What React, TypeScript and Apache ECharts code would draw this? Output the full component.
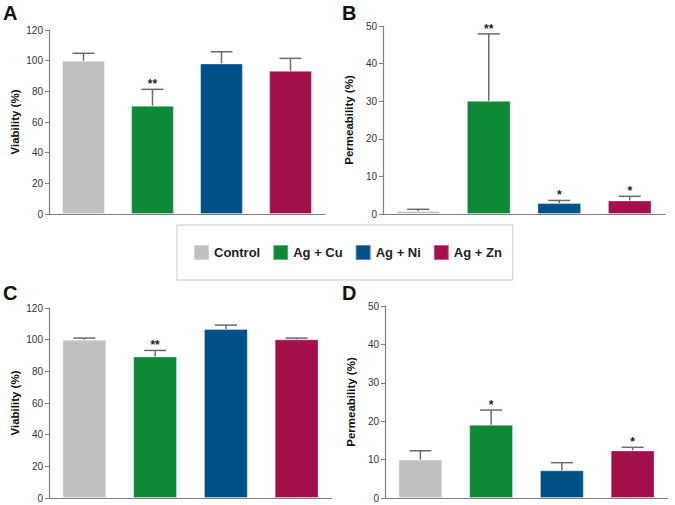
import React, { useEffect, useRef } from "react";
import * as echarts from "echarts";

const categories = ["Control", "Ag + Cu", "Ag + Ni", "Ag + Zn"];
const barColors = ["#c0c0c0", "#0e8a37", "#005187", "#a3104b"];

const viabilityA = [100, 70.6, 98.2, 93.4];
const viabilityAErr = [4.8, 10.7, 7.6, 8.1];
const starsA = ["", "**", "", ""];

const permeabilityB = [0.8, 30.1, 2.9, 3.6];
const permeabilityBErr = [0.45, 17.8, 0.7, 1.1];
const starsB = ["", "**", "*", "*"];

const viabilityC = [100, 89.4, 106.7, 100.2];
const viabilityCErr = [1.0, 3.8, 2.5, 0.8];
const starsC = ["", "**", "", ""];

const permeabilityD = [10.0, 19.1, 7.2, 12.4];
const permeabilityDErr = [2.3, 3.8, 2.0, 0.8];
const starsD = ["", "*", "", "*"];

const viabilityTicks = { min: 0, max: 120, interval: 20 };
const permeabilityTicks = { min: 0, max: 50, interval: 10 };

const FONT = "Liberation Sans, Arial, sans-serif";
const AXIS_COLOR = "#808080";

export default function App() {
  const ref = useRef<HTMLDivElement>(null);

  useEffect(() => {
    document.body.style.margin = "0";
    if (!ref.current) return;
    const chart = echarts.init(ref.current, null, { renderer: "svg" });

    const panels = [
      { vals: viabilityA, errs: viabilityAErr, stars: starsA, ticks: viabilityTicks, name: "Viability (%)" },
      { vals: permeabilityB, errs: permeabilityBErr, stars: starsB, ticks: permeabilityTicks, name: "Permeability (%)" },
      { vals: viabilityC, errs: viabilityCErr, stars: starsC, ticks: viabilityTicks, name: "Viability (%)" },
      { vals: permeabilityD, errs: permeabilityDErr, stars: starsD, ticks: permeabilityTicks, name: "Permeability (%)" },
    ];

    const grids = [
      { left: 49, right: 350, top: 30, bottom: 291 },
      { left: 383, right: 10, top: 26, bottom: 291 },
      { left: 49, right: 343, top: 308, bottom: 7 },
      { left: 385, right: 7, top: 306, bottom: 7 },
    ];

    const xAxis = grids.map((_, p) => ({
      type: "category",
      gridIndex: p,
      data: categories,
      axisLine: { lineStyle: { color: AXIS_COLOR, width: 1.2 } },
      axisTick: { show: false },
      axisLabel: { show: false },
    }));

    const yAxis = panels.map((pn, p) => ({
      type: "value",
      gridIndex: p,
      min: pn.ticks.min,
      max: pn.ticks.max,
      interval: pn.ticks.interval,
      name: pn.name,
      nameLocation: "middle",
      nameGap: 28,
      nameTextStyle: { fontFamily: FONT, fontWeight: "bold", fontSize: 11.5, color: "#111" },
      axisLine: { show: true, lineStyle: { color: AXIS_COLOR, width: 1.2 } },
      axisTick: { show: true, length: 4, lineStyle: { color: AXIS_COLOR } },
      axisLabel: { fontFamily: FONT, fontSize: 10, color: "#333", margin: 6 },
      splitLine: { show: false },
    }));

    const series: any[] = [];
    panels.forEach((pn, p) => {
      categories.forEach((c, i) => {
        series.push({
          name: c,
          type: "bar",
          xAxisIndex: p,
          yAxisIndex: p,
          barWidth: "62%",
          barGap: "-100%",
          itemStyle: { color: barColors[i], borderColor: "rgba(255,255,255,0.35)", borderWidth: 1 },
          data: pn.vals.map((v, j) => (j === i ? v : "-")),
        });
      });
      series.push({
        name: "err" + p,
        type: "custom",
        xAxisIndex: p,
        yAxisIndex: p,
        z: 5,
        data: pn.vals.map((v, i) => [i, v, v + pn.errs[i]]),
        renderItem: (params: any, api: any) => {
          const x = api.value(0);
          const base = api.coord([x, api.value(1)]);
          const top = api.coord([x, api.value(2)]);
          const half = 11;
          const st = pn.stars[params.dataIndex];
          const children: any[] = [
            {
              type: "line",
              shape: { x1: base[0], y1: base[1], x2: top[0], y2: top[1] },
              style: { stroke: "#6b6b6b", lineWidth: 1.5 },
            },
            {
              type: "line",
              shape: { x1: top[0] - half, y1: top[1], x2: top[0] + half, y2: top[1] },
              style: { stroke: "#6b6b6b", lineWidth: 1.5 },
            },
          ];
          if (st) {
            children.push({
              type: "text",
              style: {
                text: st,
                x: top[0],
                y: top[1] + 1,
                textAlign: "center",
                textVerticalAlign: "bottom",
                font: "bold 12px " + FONT,
                fill: "#222",
              },
            });
          }
          return { type: "group", children };
        },
      });
    });

    chart.setOption({
      animation: false,
      backgroundColor: "#ffffff",
      grid: grids,
      xAxis,
      yAxis,
      series,
      legend: {
        data: categories,
        selectedMode: false,
        left: 177,
        top: 225,
        icon: "rect",
        itemWidth: 15,
        itemHeight: 15,
        itemGap: 12,
        padding: [19, 11, 19, 16],
        borderColor: "#c8c8c8",
        borderWidth: 1,
        textStyle: { fontFamily: FONT, fontWeight: "bold", fontSize: 13, color: "#222" },
      },
      graphic: [
        { type: "text", left: 3, top: 3, style: { text: "A", font: "bold 20px " + FONT, fill: "#111" } },
        { type: "text", left: 342, top: 3, style: { text: "B", font: "bold 20px " + FONT, fill: "#111" } },
        { type: "text", left: 3, top: 283, style: { text: "C", font: "bold 20px " + FONT, fill: "#111" } },
        { type: "text", left: 342, top: 283, style: { text: "D", font: "bold 20px " + FONT, fill: "#111" } },
      ],
    });

    return () => chart.dispose();
  }, []);

  return <div ref={ref} style={{ width: 675, height: 505 }} />;
}
